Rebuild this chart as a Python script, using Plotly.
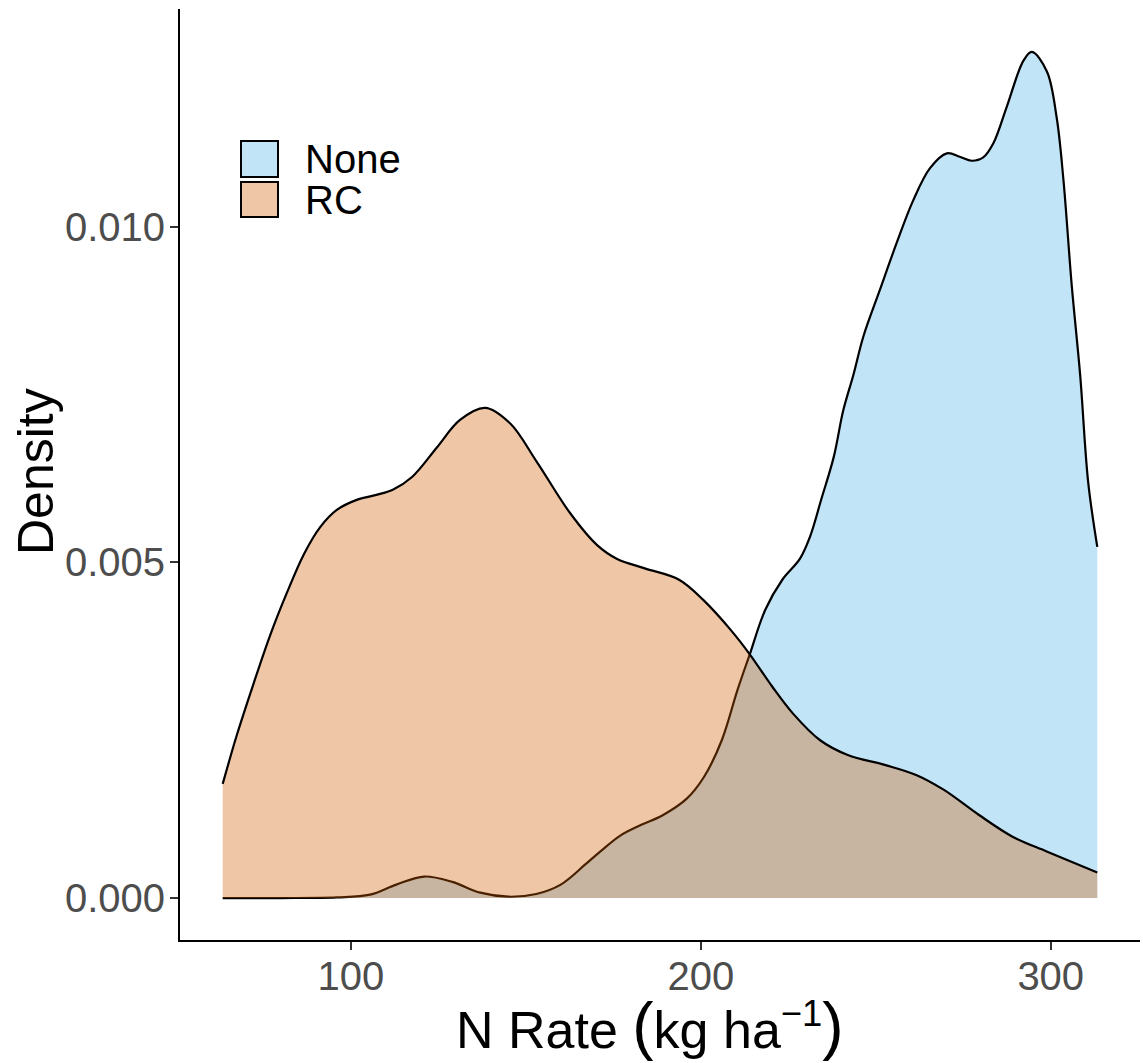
import plotly.graph_objects as go

# ---- data ----
none_x = [63.4, 80, 96, 105.5, 113, 121, 129, 137, 145, 153, 160, 167, 171, 177, 183, 189,
          196, 201, 206, 210.5, 214, 218.4, 223.3, 228.3, 231.2, 234.5, 238, 240.7, 243.6,
          246.5, 251.2, 256, 260.7, 265.5, 270.3, 274, 277.4, 280.7, 283.6, 287.4, 292.2,
          294.6, 298.9, 301.7, 303.6, 306, 308.4, 310.7, 313.3]
none_y = [0.0, 0.0, 0.00001, 0.00005, 0.0002, 0.00032, 0.00024, 0.00008, 0.00002, 0.00006,
          0.0002, 0.0005, 0.00068, 0.00093, 0.00109, 0.00123, 0.00148, 0.00181, 0.00235,
          0.0031, 0.00363, 0.00429, 0.00474, 0.00505, 0.00538, 0.00595, 0.00657, 0.00726,
          0.00779, 0.00837, 0.00906, 0.00976, 0.01039, 0.01087, 0.01109, 0.01104, 0.01098,
          0.01103, 0.01124, 0.01178, 0.01247, 0.0126, 0.01231, 0.01162, 0.01071, 0.00912,
          0.00779, 0.00619, 0.00523]

rc_x = [63.4, 67.4, 72.2, 77, 81.7, 86.5, 91.2, 96, 101.7, 107, 112, 117.5, 124.6, 131.2,
        138.4, 145.5, 153.1, 162.7, 170.3, 176.1, 184, 193.8, 200.7, 208.6, 214, 220.4,
        226.3, 234.1, 242, 252.8, 261.7, 269.5, 279.4, 289.2, 299, 313.3]
rc_y = [0.0017, 0.00242, 0.00319, 0.00392, 0.00454, 0.00511, 0.00552, 0.00578, 0.00593,
        0.006, 0.00608, 0.00627, 0.00671, 0.00712, 0.0073, 0.00707, 0.0065, 0.00573, 0.00526,
        0.00505, 0.00491, 0.00474, 0.00444, 0.00399, 0.00363, 0.00315, 0.00275, 0.00235,
        0.00213, 0.00198, 0.00183, 0.00161, 0.00124, 0.00091, 0.00069, 0.00038]

series_names = ["None", "RC"]
fill_colors = ["rgba(86,180,233,0.36)", "rgba(213,94,0,0.35)"]

x_ticks = [100, 200, 300]
y_ticks = [0.0, 0.005, 0.010]
y_tick_labels = ["0.000", "0.005", "0.010"]

x_title = 'N Rate <span style="font-size:64px">(</span>kg ha<sup>\u22121</sup><span style="font-size:64px">)</span>'
y_title = "Density"

FONT = "Liberation Sans, Arial, sans-serif"

fig = go.Figure()
for xs, ys, name, fc in [(none_x, none_y, series_names[0], fill_colors[0]),
                         (rc_x, rc_y, series_names[1], fill_colors[1])]:
    fig.add_trace(go.Scatter(
        x=xs, y=ys, name=name, mode="lines", fill="tozeroy", fillcolor=fc,
        line=dict(color="black", width=2.2, shape="spline", smoothing=1.0),
        showlegend=False, hoverinfo="x+y+name"))

# ---- layout geometry ----
W, H = 1143, 1063
L, R, T, B = 180, 3, 9, 123
pw, ph = W - L - R, H - T - B


def px2paper(px, py):
    return (px - L) / pw, (H - B - py) / ph


# ---- custom legend (keys with black border) ----
legend_items = [(series_names[0], fill_colors[0], 141, 177),
                (series_names[1], fill_colors[1], 182, 217)]
for name, fc, top, bot in legend_items:
    x0, y0 = px2paper(241, bot)
    x1, y1 = px2paper(278, top)
    fig.add_shape(type="rect", xref="paper", yref="paper", x0=x0, x1=x1, y0=y0, y1=y1,
                  fillcolor=fc, line=dict(color="black", width=2))
    tx, ty = px2paper(303, (top + bot) / 2)
    fig.add_annotation(xref="paper", yref="paper", x=tx, y=ty, text=name, showarrow=False,
                       xanchor="left", yanchor="middle",
                       font=dict(family=FONT, size=40, color="black"))

# ---- axis titles as annotations ----
ax_, ay_ = px2paper(650, 1026)
fig.add_annotation(xref="paper", yref="paper", x=ax_, y=ay_, text=x_title, showarrow=False,
                   xanchor="center", yanchor="middle",
                   font=dict(family=FONT, size=52, color="black"))
bx_, by_ = px2paper(36, 472)
fig.add_annotation(xref="paper", yref="paper", x=bx_, y=by_, text=y_title, showarrow=False,
                   textangle=-90, xanchor="center", yanchor="middle",
                   font=dict(family=FONT, size=50, color="black"))

fig.update_layout(
    width=W, height=H,
    margin=dict(l=L, r=R, t=T, b=B, autoexpand=False),
    paper_bgcolor="white", plot_bgcolor="white",
    font=dict(family=FONT),
    xaxis=dict(
        range=[51.2, 325.5], tickvals=x_ticks, ticktext=[str(v) for v in x_ticks],
        showgrid=False, zeroline=False, showline=True, linecolor="black", linewidth=2,
        ticks="outside", ticklen=8, tickwidth=2, tickcolor="#333333", automargin=False,
        tickfont=dict(family=FONT, size=40, color="#4D4D4D"), ticklabelstandoff=-8,
    ),
    yaxis=dict(
        range=[-0.000625, 0.01324], tickvals=y_ticks, ticktext=y_tick_labels,
        showgrid=False, zeroline=False, showline=True, linecolor="black", linewidth=2,
        ticks="outside", ticklen=8, tickwidth=2, tickcolor="#333333", automargin=False,
        tickfont=dict(family=FONT, size=40, color="#4D4D4D"), ticklabelstandoff=-3,
    ),
)

fig.write_html("out.html", config={"displayModeBar": False},
               post_script="document.body.style.margin='0';document.body.style.overflow='hidden';")
